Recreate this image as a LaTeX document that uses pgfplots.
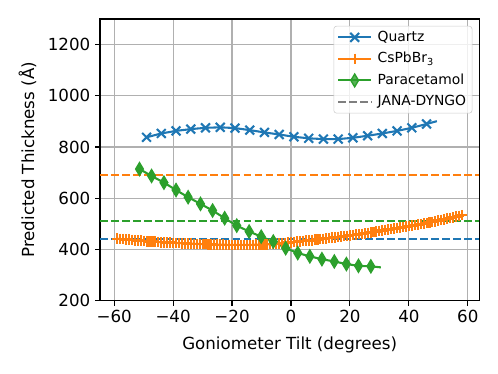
\documentclass[border=0pt]{standalone}
\usepackage{fontspec}
\setmainfont{DejaVu Sans}
\usepackage{pgfplots}
\pgfplotsset{compat=1.18}
\definecolor{tabblue}{HTML}{1F77B4}
\definecolor{taborange}{HTML}{FF7F0E}
\definecolor{tabgreen}{HTML}{2CA02C}
\definecolor{tabgray}{HTML}{7F7F7F}
\definecolor{gridgray}{HTML}{B0B0B0}
\definecolor{legendgray}{HTML}{CCCCCC}
\begin{document}
\begin{tikzpicture}
\useasboundingbox (-72pt,-52.8pt) rectangle (286.56pt,216.48pt);
\begin{axis}[
  at={(0pt,0pt)}, anchor=south west,
  scale only axis, width=273.1pt, height=202.8pt,
  xmin=-64.8, xmax=63.9, ymin=200, ymax=1300,
  xtick={-60,-40,-20,0,20,40,60},
  xticklabels={−60,−40,−20,0,20,40,60},
  ytick={200,400,600,800,1000,1200},
  /pgf/number format/assume math mode=true,
  /pgf/number format/1000 sep={},
  tick align=outside, major tick length=3.5pt,
  tick style={black, line width=0.8pt},
  xtick pos=bottom, ytick pos=left,
  axis line style={line width=0.8pt},
  grid=major, major grid style={color=gridgray, line width=0.8pt},
  ticklabel style={font=\fontsize{12}{14}\selectfont},
  label style={font=\fontsize{12}{14}\selectfont},
  xlabel={Goniometer Tilt (degrees)},
  ylabel={Predicted Thickness (Å)},
  xlabel style={at={(axis description cs:0.5,-0.157)}, anchor=center},
  ylabel style={at={(axis description cs:-0.191,0.5)}, anchor=center},
  legend style={at={(1,1)}, anchor=north east, xshift=-5pt, yshift=-5pt,
    draw=legendgray, fill=white, fill opacity=0.8, text opacity=1,
    rounded corners=2pt, font=\fontsize{10}{12}\selectfont,
    inner xsep=2.3pt, inner ysep=3.3pt, row sep=6pt, column sep=1.8pt,
    nodes={inner xsep=2pt, inner ysep=0pt, text height=7.5pt, text depth=2pt}},
  legend cell align=left,
  legend image code/.code={\draw[mark indices={2}] plot coordinates {(0pt,0pt)(12pt,0pt)(24pt,0pt)};},
]
% JANA-DYNGO reference lines
\addplot[forget plot, tabblue, line width=1.5pt, dash pattern=on 5.55pt off 2.4pt] coordinates {(-64.8,440) (63.9,440)};
\addplot[forget plot, taborange, line width=1.5pt, dash pattern=on 5.55pt off 2.4pt] coordinates {(-64.8,690) (63.9,690)};
\addplot[forget plot, tabgreen, line width=1.5pt, dash pattern=on 5.55pt off 2.4pt] coordinates {(-64.8,512) (63.9,512)};
% Quartz
\addplot[tabblue, line width=1.5pt, mark=x, mark size=4.5pt, mark indices={1,...,20}, mark options={line width=1.5pt, solid}] coordinates {
(-49,838) (-44,853) (-39,863) (-34,870) (-29,875) (-24,877) (-19,874) (-14,866) (-9,857) (-4,849)
(1,840) (6,834) (11,831) (16,831) (21,836) (26,844) (31,853) (36,863) (41,875) (46,890) (49.5,901)
};
\addlegendentry{Quartz}
% CsPbBr3
\addplot[taborange, line width=1.5pt, mark=+, mark size=3.8pt, mark options={line width=1.5pt, solid}] coordinates {
(-59,442) (-58,441) (-57,440) (-56,439) (-55,438) (-54,437) (-53,436) (-52,435) (-51,434) (-50,433)
(-49,432) (-48,431) (-47,431) (-46,430) (-45,429) (-44,428) (-43,428) (-42,427) (-41,427) (-40,426)
(-39,425) (-38,425) (-37,424) (-36,424) (-35,423) (-34,423) (-33,422) (-32,422) (-31,421) (-30,421)
(-29,421) (-28,420) (-27,420) (-26,419) (-25,419) (-24,419) (-23,419) (-22,418) (-21,418) (-20,418)
(-19,418) (-18,418) (-17,418) (-16,418) (-15,418) (-14,418) (-13,418) (-12,419) (-11,419) (-10,419)
(-9,420) (-8,420) (-7,421) (-6,422) (-5,423) (-4,424) (-3,425) (-2,426) (-1,427) (0,428)
(1,429) (2,430) (3,432) (4,433) (5,434) (6,435) (7,436) (8,438) (9,439) (10,440)
(11,441) (12,443) (13,444) (14,446) (15,447) (16,449) (17,450) (18,452) (19,453) (20,455)
(21,456) (22,458) (23,460) (24,461) (25,463) (26,465) (27,467) (28,468) (29,470) (30,472)
(31,474) (32,476) (33,478) (34,479) (35,481) (36,483) (37,485) (38,487) (39,489) (40,491)
(41,493) (42,495) (43,497) (44,499) (45,501) (46,503) (47,506) (48,508) (49,510) (50,513)
(51,515) (52,518) (53,520) (54,523) (55,525) (56,528) (57,531) (58,534)
};
\addlegendentry{CsPbBr\textsubscript{3}}
% Paracetamol
\addplot[tabgreen, line width=1.5pt, mark=diamond*, mark size=4.6pt, mark indices={1,...,20}, mark options={xscale=0.8, line width=1pt, solid}] coordinates {
(-51.4,714) (-47.3,687) (-43.1,661) (-39.0,632) (-34.9,604) (-30.7,578) (-26.6,552) (-22.5,522) (-18.4,493) (-14.2,470)
(-10.1,450) (-6.0,431) (-1.8,405) (2.3,386) (6.4,373) (10.5,362) (14.7,353) (18.8,343) (22.9,336) (27.1,334) (30.5,330)
};
\addlegendentry{Paracetamol}
\addlegendimage{tabgray, line width=1.5pt, dash pattern=on 5.55pt off 2.4pt}
\addlegendentry{JANA-DYNGO}
\end{axis}
\end{tikzpicture}
\end{document}
